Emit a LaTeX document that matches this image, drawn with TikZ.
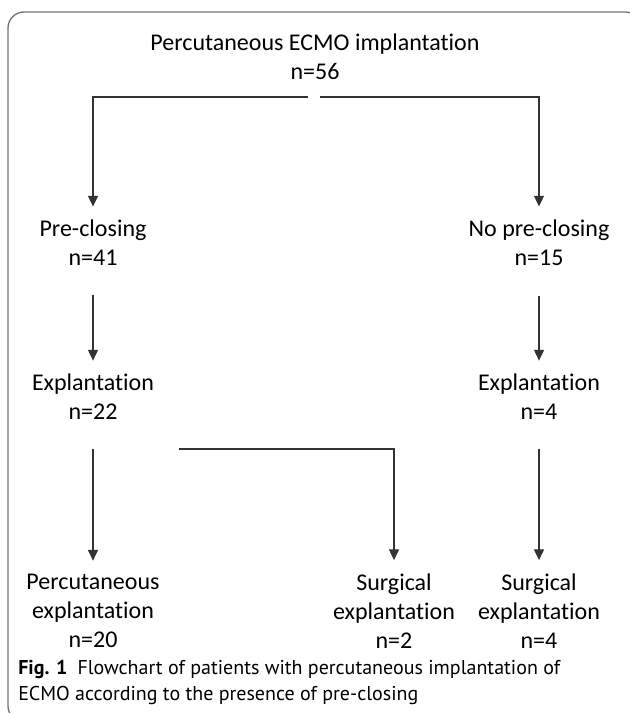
\documentclass[tikz,border=0pt]{standalone}
\usepackage{fontspec}
\setmainfont{Carlito}[Ligatures=NoCommon]
\newfontfamily\capfont{PT Sans}
\usetikzlibrary{positioning, arrows.meta}

\begin{document}
\begin{tikzpicture}[
        x=0.75pt, y=-0.75pt,
        >={Triangle[width=7.5pt, length=8pt]},
        flow/.style={->, draw=black!80, line width=0.8pt, shorten <=22pt, shorten >=10pt},
        box/.style={align=center, inner sep=0pt, font=\fontsize{18}{21.75}\selectfont},
        capt/.style={align=left, inner sep=0pt, anchor=west, font=\capfont\fontsize{15}{19.5}\selectfont},
        frame/.style={draw=black!55, line width=1pt, rounded corners=12pt}
    ]
        \useasboundingbox (0,0) rectangle (630,713);
        \draw[frame] (641,40) |- (8,12) -- (8,722) -- (40,722);

        \node[box] (implant) at (315,57) {Percutaneous ECMO implantation\\n=56};
        \node[box] (pre) at (93,243) {Pre-closing\\n=41};
        \node[box] (nopre) at (539,243) {No pre-closing\\n=15};
        \node[box] (explpre) at (93,397) {Explantation\\n=22};
        \node[box] (explno) at (539,397) {Explantation\\n=4};
        \node[box] (perc) at (93,611) {Percutaneous\\explantation\\n=20};
        \node[box] (surgpre) at (394,611) {Surgical\\explantation\\n=2};
        \node[box] (surgno) at (539,611) {Surgical\\explantation\\n=4};
        \node[capt] (caption) at (18,682) {\textbf{Fig. 1}\enspace Flowchart of patients with percutaneous implantation of\\ECMO according to the presence of pre-closing};

        \coordinate (splitL) at (308,97);
        \coordinate (splitR) at (320,97);
        \coordinate (branch) at (179,449);

        \draw[flow, shorten <=0pt] (splitL) -| (pre);
        \draw[flow, shorten <=0pt] (splitR) -| (nopre);
        \draw[flow] (pre) -- (explpre);
        \draw[flow] (nopre) -- (explno);
        \draw[flow] (explpre) -- (perc);
        \draw[flow, shorten <=0pt] (branch) -| (surgpre);
        \draw[flow] (explno) -- (surgno);
    \end{tikzpicture}
\end{document}
